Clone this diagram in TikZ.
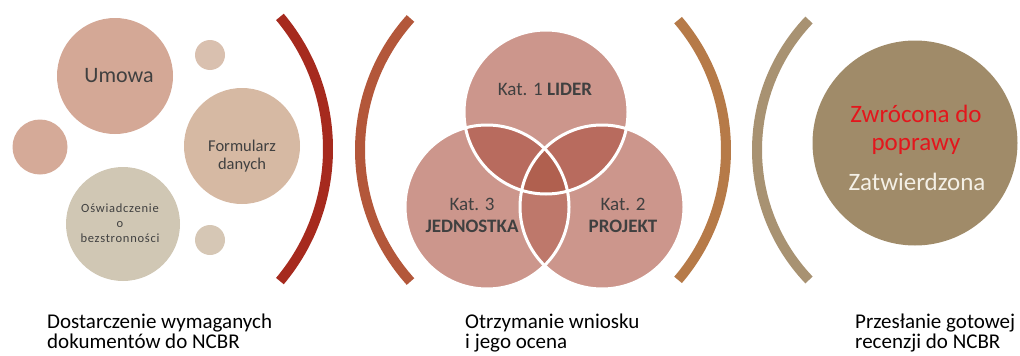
\documentclass[tikz,border=0pt]{standalone}
\usepackage{fontspec}
\setmainfont{Carlito}
\definecolor{cUmowa}{HTML}{D4A896}
\definecolor{cForm}{HTML}{D6B9A3}
\definecolor{cOsw}{HTML}{D0C7B4}
\definecolor{cSmallL}{HTML}{D5AA98}
\definecolor{cSmallT}{HTML}{D9C0AF}
\definecolor{cSmallB}{HTML}{D6C7B5}
\definecolor{cVenn}{HTML}{CC968C}
\definecolor{cVennTwo}{HTML}{B86B5E}
\definecolor{cVennLow}{HTML}{BE786B}
\definecolor{cVennThree}{HTML}{B0604F}
\definecolor{cFinal}{HTML}{A08B69}
\definecolor{cArcA}{HTML}{A62A1E}
\definecolor{cArcB}{HTML}{B3573A}
\definecolor{cArcC}{HTML}{B67A48}
\definecolor{cArcD}{HTML}{A89272}
\definecolor{cTxt}{HTML}{404040}
\definecolor{cRed}{HTML}{E3161C}
\definecolor{cWhiteTxt}{HTML}{F4F0E6}
\tikzset{
  bub/.style={circle, inner sep=0pt, minimum size=#1},
  bracketline/.style={line width=10pt},
  intxt/.style={text=cTxt, inner sep=0pt, align=center},
  labtxt/.style={text=black, inner sep=0pt, align=left, font=\fontsize{21}{20.5}\selectfont},
  smalltxt/.style={intxt, anchor=base, font=\fontsize{12.5}{15}\selectfont\addfontfeature{LetterSpace=6}},
}
\begin{document}
\begin{tikzpicture}[x=1pt,y=1pt]
\useasboundingbox (0,0) rectangle (1020,-356);

% left panel
\node[bub=116, fill=cUmowa] (umowa) at (115,-76) {};
\node[bub=30, fill=cSmallT] (smalltop) at (210,-55) {};
\node[bub=55, fill=cSmallL] (smallleft) at (40,-147) {};
\node[bub=116, fill=cForm] (form) at (242,-146) {};
\node[bub=114, fill=cOsw] (osw) at (123,-224) {};
\node[bub=30, fill=cSmallB] (smallbot) at (210,-240) {};

\node[intxt, anchor=base, font=\fontsize{22}{24}\selectfont] (tumowa) at (119,-82) {Umowa};
\node[intxt, anchor=base, font=\fontsize{16.5}{18}\selectfont] (tform1) at (242,-151) {Formularz};
\node[intxt, anchor=base, font=\fontsize{16.5}{18}\selectfont] (tform2) at (242,-169) {danych};
\node[smalltxt] (tosw1) at (120,-212) {Oświadczenie};
\node[smalltxt] (tosw2) at (120,-227) {o};
\node[smalltxt] (tosw3) at (120,-242) {bezstronności};

% brackets
\draw[bracketline, cArcA] ([shift={(-40:205.5)}]122.5,-149) arc (-40:40:205.5);
\draw[bracketline, cArcB] ([shift={(138:196.6)}]556.6,-150) arc (138:222:196.6);
\draw[bracketline, cArcC] ([shift={(-40.5:200)}]526,-150) arc (-40.5:40.5:200);
\draw[bracketline, cArcD] ([shift={(136.4:188.5)}]945.5,-150) arc (136.4:223.6:188.5);

% venn
\node[bub=164, fill=cVenn] (k1) at (546,-112) {};
\node[bub=164, fill=cVenn] (k3) at (487,-207) {};
\node[bub=164, fill=cVenn] (k2) at (602,-207) {};
\begin{scope}
  \clip (k1.center) circle (82);
  \fill[cVennTwo] (k3.center) circle (82);
  \fill[cVennTwo] (k2.center) circle (82);
\end{scope}
\begin{scope}
  \clip (k3.center) circle (82);
  \fill[cVennLow] (k2.center) circle (82);
\end{scope}
\begin{scope}
  \clip (k1.center) circle (82);
  \clip (k3.center) circle (82);
  \fill[cVennThree] (k2.center) circle (82);
\end{scope}
\draw[white, line width=3pt] (k1.center) circle (82);
\draw[white, line width=3pt] (k3.center) circle (82);
\draw[white, line width=3pt] (k2.center) circle (82);

\node[intxt, anchor=base, font=\fontsize{19}{22}\selectfont] (tk1) at (545,-95) {Kat. 1 \textbf{LIDER}};
\node[intxt, anchor=base, font=\fontsize{19}{22}\selectfont] (tk3a) at (472,-210) {Kat. 3};
\node[intxt, anchor=base, font=\fontsize{19}{22}\selectfont] (tk3b) at (472,-232) {\textbf{JEDNOSTKA}};
\node[intxt, anchor=base, font=\fontsize{19}{22}\selectfont] (tk2a) at (623,-210) {Kat. 2};
\node[intxt, anchor=base, font=\fontsize{19}{22}\selectfont] (tk2b) at (623,-232) {\textbf{PROJEKT}};

% final
\node[bub=205, fill=cFinal] (final) at (915,-143) {};
\node[inner sep=0pt, text=cRed, anchor=base, font=\fontsize{25}{28}\selectfont] (tz1) at (916,-122) {Zwrócona do};
\node[inner sep=0pt, text=cRed, anchor=base, font=\fontsize{25}{28}\selectfont] (tz2) at (916,-150) {poprawy};
\node[inner sep=0pt, text=cWhiteTxt, anchor=base, font=\fontsize{25}{28}\selectfont] (tz3) at (917,-190) {Zatwierdzona};

% bottom labels
\node[labtxt, anchor=base west] (lab1a) at (47,-328) {Dostarczenie wymaganych};
\node[labtxt, anchor=base west] (lab1b) at (47,-348) {dokumentów do NCBR};
\node[labtxt, anchor=base west] (lab2a) at (465,-328) {Otrzymanie wniosku};
\node[labtxt, anchor=base west] (lab2b) at (465,-348) {i jego ocena};
\node[labtxt, anchor=base west] (lab3a) at (855,-328) {Przesłanie gotowej};
\node[labtxt, anchor=base west] (lab3b) at (855,-348) {recenzji do NCBR};
\end{tikzpicture}
\end{document}
